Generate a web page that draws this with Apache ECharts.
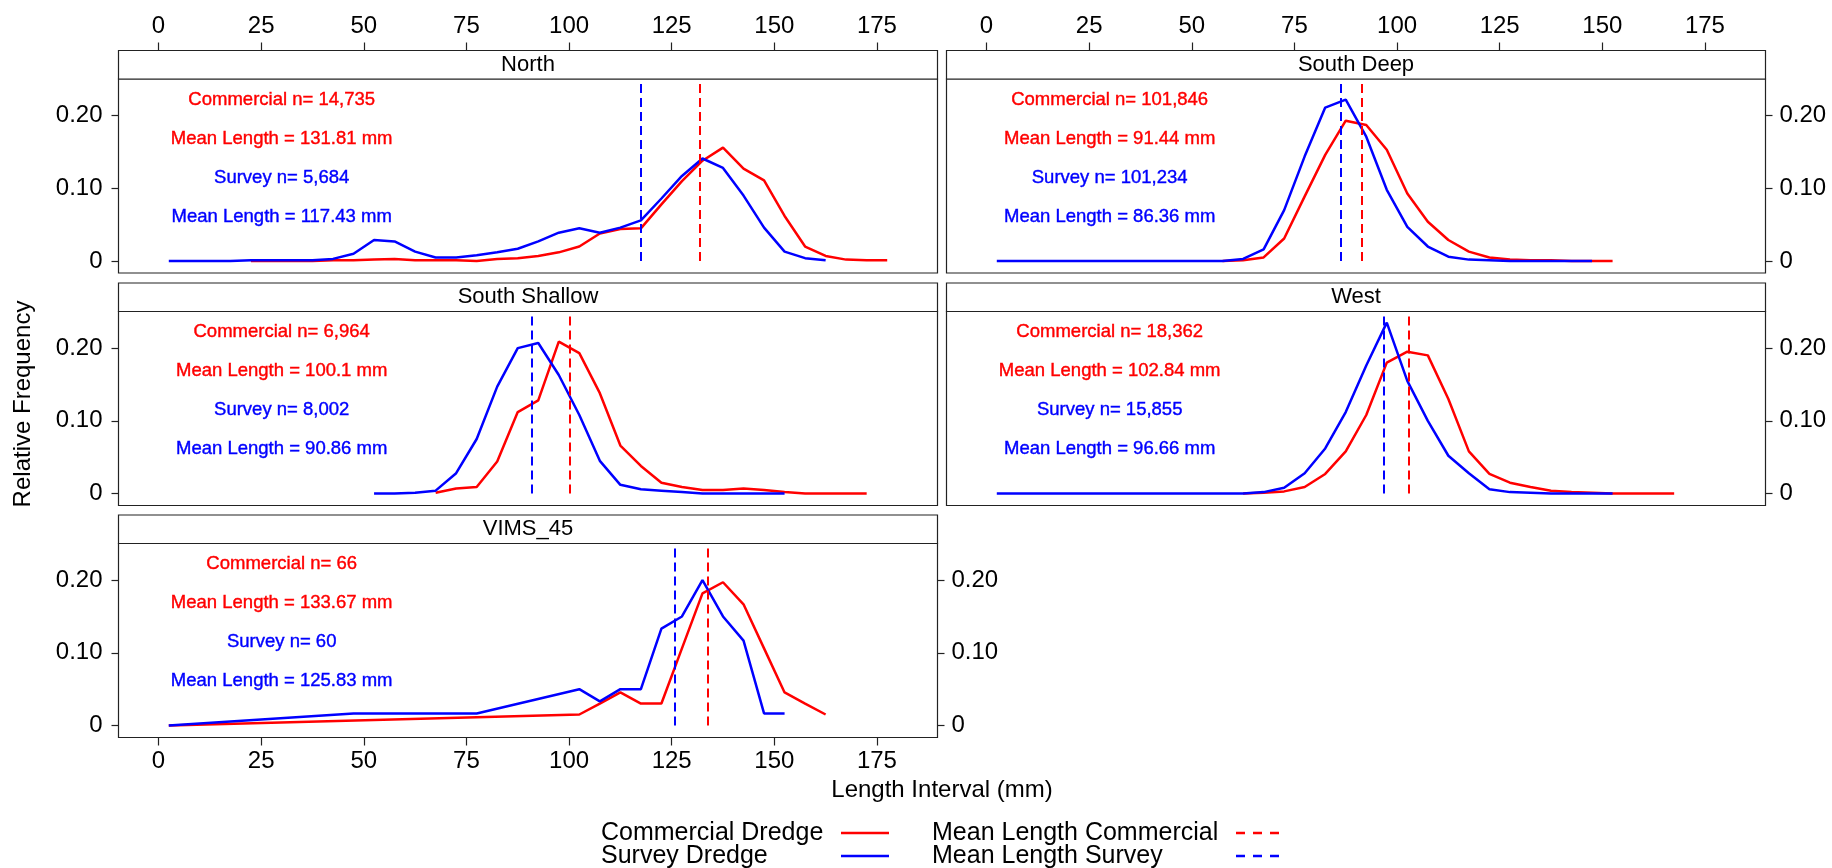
<!DOCTYPE html>
<html>
<head>
<meta charset="utf-8">
<title>Length frequency by region</title>
<script src="https://cdn.jsdelivr.net/npm/echarts@6/dist/echarts.min.js"></script>
<style>
  html, body { margin: 0; padding: 0; background: #fff; }
  #main { width: 1832px; height: 868px; }
</style>
</head>
<body>
<div id="main"></div>
<script>
// panels in lattice order
const panelNames = ['North', 'South Deep', 'South Shallow', 'West', 'VIMS_45'];
const commercialN = ['14,735', '101,846', '6,964', '18,362', '66'];
const surveyN = ['5,684', '101,234', '8,002', '15,855', '60'];
const commercialMean = [131.81, 91.44, 100.1, 102.84, 133.67];
const surveyMean = [117.43, 86.36, 90.86, 96.66, 125.83];

const xTicks = [0, 25, 50, 75, 100, 125, 150, 175];
const yTicks = [0, 0.1, 0.2];

// [length interval midpoint (mm), relative frequency]
const northCommercial = [[22.5,0],[27.5,0],[32.5,0],[37.5,0],[42.5,0.001],[47.5,0.001],[52.5,0.002],[57.5,0.003],[62.5,0.001],[67.5,0.001],[72.5,0.001],[77.5,0],[82.5,0.003],[87.5,0.004],[92.5,0.007],[97.5,0.012],[102.5,0.02],[107.5,0.038],[112.5,0.044],[117.5,0.045],[122.5,0.078],[127.5,0.11],[132.5,0.138],[137.5,0.156],[142.5,0.127],[147.5,0.111],[152.5,0.062],[157.5,0.02],[162.5,0.007],[167.5,0.002],[172.5,0.001],[177.5,0.001]];
const northSurvey = [[2.5,0],[7.5,0],[12.5,0],[17.5,0],[22.5,0.001],[27.5,0.001],[32.5,0.001],[37.5,0.001],[42.5,0.003],[47.5,0.01],[52.5,0.029],[57.5,0.027],[62.5,0.013],[67.5,0.005],[72.5,0.005],[77.5,0.008],[82.5,0.012],[87.5,0.017],[92.5,0.027],[97.5,0.039],[102.5,0.045],[107.5,0.039],[112.5,0.046],[117.5,0.056],[122.5,0.086],[127.5,0.117],[132.5,0.141],[137.5,0.128],[142.5,0.09],[147.5,0.046],[152.5,0.013],[157.5,0.004],[162.5,0.001]];

const southDeepCommercial = [[57.5,0],[62.5,0.001],[67.5,0.005],[72.5,0.031],[77.5,0.089],[82.5,0.146],[87.5,0.193],[92.5,0.187],[97.5,0.153],[102.5,0.093],[107.5,0.054],[112.5,0.029],[117.5,0.013],[122.5,0.005],[127.5,0.002],[132.5,0.001],[137.5,0.001],[142.5,0],[147.5,0],[152.5,0]];
const southDeepSurvey = [[2.5,0],[7.5,0],[12.5,0],[17.5,0],[22.5,0],[27.5,0],[32.5,0],[37.5,0],[42.5,0],[47.5,0],[52.5,0],[57.5,0],[62.5,0.003],[67.5,0.016],[72.5,0.07],[77.5,0.144],[82.5,0.211],[87.5,0.222],[92.5,0.171],[97.5,0.098],[102.5,0.047],[107.5,0.02],[112.5,0.006],[117.5,0.002],[122.5,0.001],[127.5,0],[132.5,0],[137.5,0],[142.5,0],[147.5,0]];

const southShallowCommercial = [[67.5,0.001],[72.5,0.007],[77.5,0.009],[82.5,0.044],[87.5,0.112],[92.5,0.128],[97.5,0.209],[102.5,0.193],[107.5,0.138],[112.5,0.066],[117.5,0.038],[122.5,0.015],[127.5,0.009],[132.5,0.005],[137.5,0.005],[142.5,0.007],[147.5,0.005],[152.5,0.002],[157.5,0],[162.5,0],[167.5,0],[172.5,0]];
const southShallowSurvey = [[52.5,0],[57.5,0],[62.5,0.001],[67.5,0.004],[72.5,0.028],[77.5,0.075],[82.5,0.147],[87.5,0.2],[92.5,0.207],[97.5,0.163],[102.5,0.108],[107.5,0.045],[112.5,0.012],[117.5,0.006],[122.5,0.004],[127.5,0.002],[132.5,0],[137.5,0],[142.5,0],[147.5,0],[152.5,0]];

const westCommercial = [[62.5,0],[67.5,0.001],[72.5,0.003],[77.5,0.009],[82.5,0.027],[87.5,0.058],[92.5,0.108],[97.5,0.18],[102.5,0.195],[107.5,0.19],[112.5,0.13],[117.5,0.058],[122.5,0.027],[127.5,0.015],[132.5,0.009],[137.5,0.004],[142.5,0.002],[147.5,0.001],[152.5,0],[157.5,0],[162.5,0],[167.5,0]];
const westSurvey = [[2.5,0],[7.5,0],[12.5,0],[17.5,0],[22.5,0],[27.5,0],[32.5,0],[37.5,0],[42.5,0],[47.5,0],[52.5,0],[57.5,0],[62.5,0],[67.5,0.002],[72.5,0.008],[77.5,0.028],[82.5,0.062],[87.5,0.112],[92.5,0.176],[97.5,0.235],[102.5,0.155],[107.5,0.1],[112.5,0.052],[117.5,0.028],[122.5,0.006],[127.5,0.002],[132.5,0.001],[137.5,0],[142.5,0],[147.5,0],[152.5,0]];

const vimsCommercial = [[2.5,0],[102.5,0.0152],[107.5,0.0303],[112.5,0.0455],[117.5,0.0303],[122.5,0.0303],[127.5,0.1061],[132.5,0.1818],[137.5,0.197],[142.5,0.1667],[147.5,0.1061],[152.5,0.0455],[157.5,0.0303],[162.5,0.0152]];
const vimsSurvey = [[2.5,0],[47.5,0.0167],[77.5,0.0167],[102.5,0.05],[107.5,0.0333],[112.5,0.05],[117.5,0.05],[122.5,0.1333],[127.5,0.15],[132.5,0.2],[137.5,0.15],[142.5,0.1167],[147.5,0.0167],[152.5,0.0167]];

const commercialData = [northCommercial, southDeepCommercial, southShallowCommercial, westCommercial, vimsCommercial];
const surveyData = [northSurvey, southDeepSurvey, southShallowSurvey, westSurvey, vimsSurvey];

// layout (px)
const FONT = '"Liberation Sans", Arial, sans-serif';
const RED = '#ff0000', BLUE = '#0000ff', INK = '#222';
const colLeft = [118.5, 946.5];
const rowTop = [79, 311.5, 543.5];
const panelW = 819, panelH = 194, stripH = 28.5;
const panelCol = [0, 1, 0, 1, 0];
const panelRow = [0, 0, 1, 1, 2];
const XMIN = -9.75, XMAX = 189.75, YMIN = -0.0164, YMAX = 0.2503;
const noteX = 30;
const noteY = [0.222, 0.168, 0.115, 0.061];

const myChart = echarts.init(document.getElementById('main'));

const grids = [], xAxes = [], yAxes = [], series = [], graphics = [];

const yLabel = v => (v === 0 ? '0' : v.toFixed(2));

const yAxisFor = (i, onRight) => ({
  gridIndex: i, type: 'value', min: YMIN, max: YMAX,
  position: onRight ? 'right' : 'left',
  axisLine: { show: false, onZero: false },
  splitLine: { show: false },
  axisTick: { show: true, inside: false, length: 7, customValues: yTicks,
    lineStyle: { color: INK, width: 1.2 } },
  axisLabel: { customValues: yTicks, formatter: yLabel, margin: onRight ? 14 : 16,
    fontSize: 24, fontFamily: FONT, color: '#000' }
});

panelNames.forEach((name, i) => {
  const left = colLeft[panelCol[i]];
  const top = rowTop[panelRow[i]];
  grids.push({ left: left, top: top, width: panelW, height: panelH, show: true,
    borderColor: INK, borderWidth: 1.2, backgroundColor: 'transparent' });

  const topAxis = panelRow[i] === 0;
  const bottomAxis = i === 4;
  xAxes.push({
    gridIndex: i, type: 'value', min: XMIN, max: XMAX,
    position: topAxis ? 'top' : 'bottom',
    offset: topAxis ? stripH : 0,
    axisLine: { show: false, onZero: false },
    splitLine: { show: false },
    axisTick: { show: topAxis || bottomAxis, inside: false, length: 8, customValues: xTicks,
      lineStyle: { color: INK, width: 1.2 } },
    axisLabel: { show: topAxis || bottomAxis, customValues: xTicks, margin: 12,
      fontSize: 24, fontFamily: FONT, color: '#000' }
  });

  yAxes.push(yAxisFor(i, panelCol[i] === 1));

  // strip header
  graphics.push({ type: 'rect', shape: { x: left, y: top - stripH, width: panelW, height: stripH },
    style: { fill: '#fff', stroke: INK, lineWidth: 1.2 }, silent: true });
  graphics.push({ type: 'text', x: left + panelW / 2, y: top - stripH / 2,
    style: { text: name, fill: '#000', font: '22px ' + FONT, textAlign: 'center', textVerticalAlign: 'middle' },
    silent: true });

  const noteLabel = color => ({ show: true, position: 'inside', formatter: '{b}', color: color,
    fontSize: 18.5, fontFamily: FONT, textBorderColor: color, textBorderWidth: 0.4 });

  series.push({
    name: 'Commercial Dredge', type: 'line', xAxisIndex: i, yAxisIndex: i,
    data: commercialData[i], symbol: 'none', z: 2, animation: false,
    lineStyle: { color: RED, width: 2.5 }, itemStyle: { color: RED },
    markLine: { silent: true, symbol: ['none', 'none'], label: { show: false }, animation: false,
      lineStyle: { color: RED, width: 2, type: [9, 5] },
      data: [[{ coord: [commercialMean[i], 0] }, { coord: [commercialMean[i], 0.25] }]] },
    markPoint: { silent: true, symbol: 'rect', symbolSize: 0, animation: false, label: noteLabel(RED),
      data: [
        { name: 'Commercial n= ' + commercialN[i], coord: [noteX, noteY[0]] },
        { name: 'Mean Length = ' + commercialMean[i] + ' mm', coord: [noteX, noteY[1]] }
      ] }
  });
  series.push({
    name: 'Survey Dredge', type: 'line', xAxisIndex: i, yAxisIndex: i,
    data: surveyData[i], symbol: 'none', z: 3, animation: false,
    lineStyle: { color: BLUE, width: 2.5 }, itemStyle: { color: BLUE },
    markLine: { silent: true, symbol: ['none', 'none'], label: { show: false }, animation: false,
      lineStyle: { color: BLUE, width: 2, type: [9, 5] },
      data: [[{ coord: [surveyMean[i], 0] }, { coord: [surveyMean[i], 0.25] }]] },
    markPoint: { silent: true, symbol: 'rect', symbolSize: 0, animation: false, label: noteLabel(BLUE),
      data: [
        { name: 'Survey n= ' + surveyN[i], coord: [noteX, noteY[2]] },
        { name: 'Mean Length = ' + surveyMean[i] + ' mm', coord: [noteX, noteY[3]] }
      ] }
  });
});

// VIMS_45 also gets ticks on its open right side
yAxes.push(yAxisFor(4, true));

// axis titles
graphics.push({ type: 'text', x: 942, y: 790,
  style: { text: 'Length Interval (mm)', fill: '#000', font: '24px ' + FONT, textAlign: 'center', textVerticalAlign: 'middle' } });
graphics.push({ type: 'text', x: 23, y: 404, rotation: Math.PI / 2,
  style: { text: 'Relative Frequency', fill: '#000', font: '24px ' + FONT, textAlign: 'center', textVerticalAlign: 'middle' } });

// legend, drawn by hand: text then line key
const legendRows = [
  { text: 'Commercial Dredge', x: 601, y: 833, color: RED, dash: null },
  { text: 'Survey Dredge', x: 601, y: 856, color: BLUE, dash: null },
  { text: 'Mean Length Commercial', x: 932, y: 833, color: RED, dash: [9, 8] },
  { text: 'Mean Length Survey', x: 932, y: 856, color: BLUE, dash: [9, 8] }
];
legendRows.forEach(r => {
  graphics.push({ type: 'text', x: r.x, y: r.y,
    style: { text: r.text, fill: '#000', font: '25px ' + FONT, textAlign: 'left', textVerticalAlign: 'middle' } });
  const x0 = r.dash ? 1236 : 841;
  const x1 = r.dash ? 1280 : 889;
  graphics.push({ type: 'line', shape: { x1: x0, y1: r.y, x2: x1, y2: r.y },
    style: { stroke: r.color, lineWidth: 2.5, lineDash: r.dash || null } });
});

myChart.setOption({
  animation: false,
  backgroundColor: '#fff',
  grid: grids,
  xAxis: xAxes,
  yAxis: yAxes,
  series: series,
  graphic: graphics
});
</script>
</body>
</html>
